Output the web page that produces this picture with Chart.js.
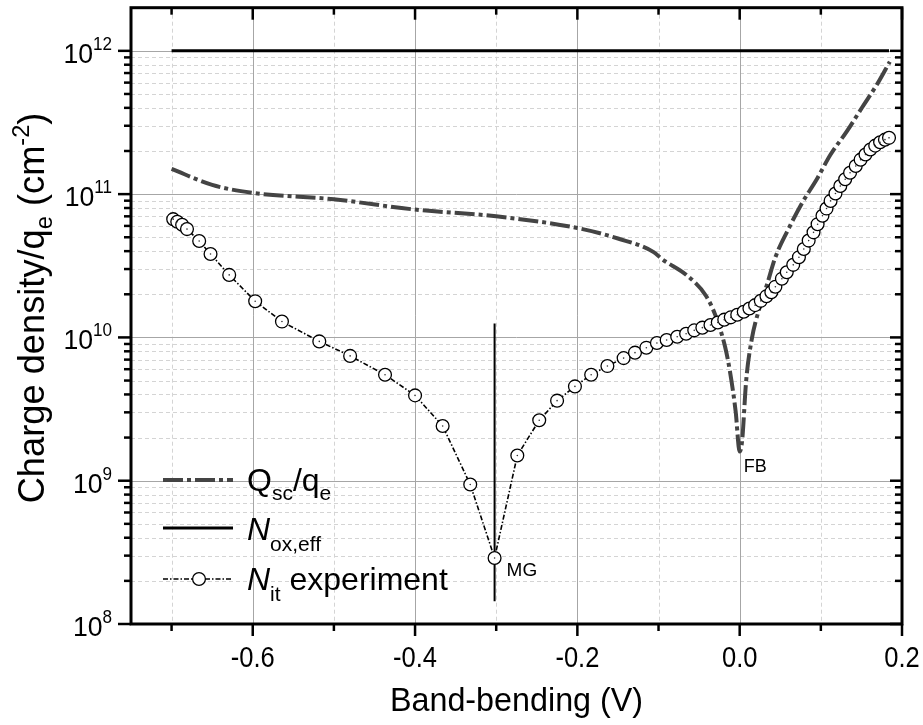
<!DOCTYPE html>
<html>
<head>
<meta charset="utf-8">
<script src="https://cdn.jsdelivr.net/npm/chart.js@4.4.1/dist/chart.umd.min.js"></script>
<style>
  body { margin: 0; background: #fff; }
  #wrap { width: 923px; height: 725px; position: relative; }
</style>
</head>
<body>
<div id="wrap"><canvas id="myChart"></canvas></div>
<script>
// ---- data ----
const qscX = [-0.700, -0.650, -0.600, -0.500, -0.400, -0.300, -0.200, -0.150, -0.106, -0.096, -0.065, -0.042, -0.030, -0.018, -0.012, -0.005, 0.000, 0.003, 0.008, 0.015, 0.023, 0.034, 0.044, 0.060, 0.077, 0.095, 0.112, 0.132, 0.151, 0.170, 0.185];
const qscY = [1.50e11, 1.16e11, 1.02e11, 9.2e10, 7.8e10, 7.0e10, 5.8e10, 4.9e10, 3.94e10, 3.53e10, 2.71e10, 1.97e10, 1.43e10, 8.6e9, 5.8e9, 3.05e9, 1.6e9, 1.9e9, 5.0e9, 9.8e9, 1.51e10, 2.37e10, 3.63e10, 5.7e10, 8.7e10, 1.27e11, 1.89e11, 2.74e11, 4.04e11, 5.93e11, 8.4e11];

const noxX = [-0.700, 0.184];
const noxY = [1e12, 1e12];

const nitX = [-0.698, -0.693, -0.687, -0.681, -0.666, -0.652, -0.629, -0.597, -0.564, -0.518, -0.480, -0.437, -0.400, -0.366, -0.332, -0.302, -0.274, -0.247, -0.225, -0.203, -0.183, -0.163, -0.143, -0.129, -0.115, -0.102, -0.090, -0.077, -0.066, -0.056, -0.046, -0.036, -0.027, -0.019, -0.011, -0.003, 0.005, 0.012, 0.019, 0.026, 0.033, 0.039, 0.044, 0.052, 0.058, 0.066, 0.073, 0.079, 0.085, 0.091, 0.096, 0.102, 0.107, 0.112, 0.118, 0.124, 0.130, 0.136, 0.143, 0.149, 0.155, 0.161, 0.167, 0.173, 0.179, 0.184];
const nitY = [6.69e10, 6.42e10, 6.11e10, 5.70e10, 4.71e10, 3.82e10, 2.73e10, 1.79e10, 1.29e10, 9.38e9, 7.43e9, 5.49e9, 3.94e9, 2.41e9, 9.41e8, 2.89e8, 1.50e9, 2.64e9, 3.62e9, 4.55e9, 5.49e9, 6.31e9, 7.17e9, 7.83e9, 8.48e9, 9.15e9, 9.59e9, 1.01e10, 1.06e10, 1.12e10, 1.17e10, 1.22e10, 1.27e10, 1.33e10, 1.38e10, 1.44e10, 1.51e10, 1.59e10, 1.68e10, 1.80e10, 1.94e10, 2.07e10, 2.26e10, 2.57e10, 2.85e10, 3.21e10, 3.63e10, 4.14e10, 4.74e10, 5.41e10, 6.17e10, 7.06e10, 7.93e10, 8.97e10, 1.01e11, 1.14e11, 1.27e11, 1.41e11, 1.57e11, 1.74e11, 1.89e11, 2.05e11, 2.18e11, 2.30e11, 2.40e11, 2.47e11];

// midgap marker line
const mgX = [-0.302, -0.302];
const mgY = [1.25e10, 1.44e8];

const xMajor = [-0.6, -0.4, -0.2, 0.0, 0.2];
const xMajorLabels = ['-0.6', '-0.4', '-0.2', '0.0', '0.2'];
const xMinor = [-0.7, -0.5, -0.3, -0.1, 0.1];
const yMajor = [1e8, 1e9, 1e10, 1e11, 1e12];
const yMajorExp = ['8', '9', '10', '11', '12'];

const FONT = '"Liberation Sans", Arial, Helvetica, sans-serif';
function font(s, it) { return (it ? 'italic ' : '') + s + 'px ' + FONT; }

function pts(xs, ys) { return xs.map((x, i) => ({ x: x, y: ys[i] })); }

// text with sub/superscripts, sx = horizontal squeeze
function drawRich(ctx, parts, x, y, align, sx) {
  sx = sx || 1;
  let w = 0;
  parts.forEach(p => { ctx.font = font(p.s, p.it); w += ctx.measureText(p.t).width; });
  w *= sx;
  let cx = align === 'right' ? x - w : align === 'center' ? x - w / 2 : x;
  ctx.save();
  ctx.translate(cx, y);
  ctx.scale(sx, 1);
  let ox = 0;
  parts.forEach(p => {
    ctx.font = font(p.s, p.it);
    ctx.fillText(p.t, ox, p.dy || 0);
    ox += ctx.measureText(p.t).width;
  });
  ctx.restore();
}

function yMinorValues() {
  const out = [];
  for (let k = 8; k <= 12; k++) {
    for (let m = 2; m <= 9; m++) {
      const v = m * Math.pow(10, k);
      if (v < 2e12) out.push(v);
    }
  }
  return out;
}

const decoPlugin = {
  id: 'deco',
  beforeDatasetsDraw(chart) {
    const ctx = chart.ctx;
    const { left, right, top, bottom } = chart.chartArea;
    const xs = chart.scales.x, ys = chart.scales.y;
    ctx.save();
    ctx.lineWidth = 1;
    // minor grid
    ctx.strokeStyle = '#d4d4d4';
    ctx.setLineDash([4, 3]);
    xMinor.forEach(v => {
      const px = Math.round(xs.getPixelForValue(v)) + 0.5;
      ctx.beginPath(); ctx.moveTo(px, top); ctx.lineTo(px, bottom); ctx.stroke();
    });
    yMinorValues().forEach(v => {
      const py = Math.round(ys.getPixelForValue(v)) + 0.5;
      ctx.beginPath(); ctx.moveTo(left, py); ctx.lineTo(right, py); ctx.stroke();
    });
    // major grid
    ctx.setLineDash([]);
    ctx.strokeStyle = '#a6a6a6';
    xMajor.forEach(v => {
      const px = Math.round(xs.getPixelForValue(v)) + 0.5;
      ctx.beginPath(); ctx.moveTo(px, top); ctx.lineTo(px, bottom); ctx.stroke();
    });
    yMajor.forEach(v => {
      const py = Math.round(ys.getPixelForValue(v)) + 0.5;
      ctx.beginPath(); ctx.moveTo(left, py); ctx.lineTo(right, py); ctx.stroke();
    });
    ctx.restore();
  },
  afterDatasetsDraw(chart) {
    const ctx = chart.ctx;
    const { left, right, top, bottom } = chart.chartArea;
    const xs = chart.scales.x, ys = chart.scales.y;
    ctx.save();
    ctx.strokeStyle = '#000';
    ctx.fillStyle = '#000';

    // ticks: outward on bottom/left, inward on top/right
    ctx.lineWidth = 2.5;
    const tick = (x1, y1, x2, y2) => { ctx.beginPath(); ctx.moveTo(x1, y1); ctx.lineTo(x2, y2); ctx.stroke(); };
    xMajor.forEach(v => { const px = xs.getPixelForValue(v); tick(px, bottom, px, bottom + 12); tick(px, top, px, top + 12); });
    xMinor.forEach(v => { const px = xs.getPixelForValue(v); tick(px, bottom, px, bottom + 7); tick(px, top, px, top + 7); });
    yMajor.forEach(v => { const py = ys.getPixelForValue(v); tick(left - 13, py, left, py); tick(right - 12, py, right, py); });
    yMinorValues().forEach(v => { const py = ys.getPixelForValue(v); tick(left - 7, py, left, py); tick(right - 7, py, right, py); });

    // frame
    ctx.lineWidth = 3;
    ctx.strokeRect(left, top, right - left, bottom - top);

    // x tick labels
    ctx.textBaseline = 'alphabetic';
    ctx.textAlign = 'left';
    xMajor.forEach((v, i) => {
      drawRich(ctx, [{ t: xMajorLabels[i], s: 29 }], xs.getPixelForValue(v), bottom + 43, 'center', 0.88);
    });
    // y tick labels 10^n
    yMajor.forEach((v, i) => {
      const py = ys.getPixelForValue(v);
      drawRich(ctx, [{ t: '10', s: 28 }, { t: yMajorExp[i], s: 18, dy: -13 }], left - 19, py + 12, 'right', 0.95);
    });

    // axis titles
    drawRich(ctx, [{ t: 'Band-bending (V)', s: 34 }], (left + right) / 2, 711, 'center', 0.95);
    ctx.save();
    ctx.translate(44, 308);
    ctx.rotate(-Math.PI / 2);
    drawRich(ctx, [
      { t: 'Charge density/q', s: 37 }, { t: 'e', s: 24, dy: 8 },
      { t: ' (cm', s: 37 }, { t: '-2', s: 24, dy: -15 }, { t: ')', s: 37 }
    ], 0, 0, 'center', 0.98);
    ctx.restore();

    // annotations
    drawRich(ctx, [{ t: 'MG', s: 19 }], xs.getPixelForValue(-0.302) + 12, ys.getPixelForValue(2.89e8) + 18, 'left');
    drawRich(ctx, [{ t: 'FB', s: 18 }], xs.getPixelForValue(0.0) + 4, ys.getPixelForValue(1.6e9) + 21, 'left');

    // legend
    const ds = chart.data.datasets;
    const lx1 = 163, lx2 = 233, tx = 247;
    const sample = (d, y) => {
      ctx.save();
      ctx.strokeStyle = d.borderColor;
      ctx.lineWidth = d.borderWidth;
      ctx.setLineDash(d.borderDash || []);
      ctx.beginPath(); ctx.moveTo(lx1, y); ctx.lineTo(lx2, y); ctx.stroke();
      ctx.restore();
    };
    sample(ds[1], 480);
    drawRich(ctx, [{ t: 'Q', s: 32 }, { t: 'sc', s: 21, dy: 9 }, { t: '/q', s: 32 }, { t: 'e', s: 21, dy: 9 }], tx, 491, 'left');
    sample(ds[2], 528);
    drawRich(ctx, [{ t: 'N', s: 32, it: true }, { t: 'ox,eff', s: 21, dy: 11 }], tx, 540, 'left');
    sample(ds[0], 579);
    ctx.beginPath();
    ctx.arc(199, 579, ds[0].pointRadius, 0, Math.PI * 2);
    ctx.fillStyle = '#fff'; ctx.fill();
    ctx.lineWidth = ds[0].pointBorderWidth; ctx.strokeStyle = '#000'; ctx.stroke();
    ctx.fillStyle = '#000';
    drawRich(ctx, [{ t: 'N', s: 32, it: true }, { t: 'it', s: 21, dy: 11 }, { t: ' experiment', s: 32 }], tx, 590, 'left');

    ctx.restore();
  }
};

const ctx = document.getElementById('myChart').getContext('2d');
const myChart = new Chart(ctx, {
  type: 'line',
  data: {
    datasets: [
      {
        label: 'N_it experiment',
        data: pts(nitX, nitY),
        borderColor: '#000',
        borderWidth: 1.6,
        borderDash: [5, 2, 1.5, 2],
        pointRadius: 6.4,
        pointBackgroundColor: '#fff',
        pointBorderColor: '#000',
        pointBorderWidth: 1.3,
        tension: 0,
        order: 0
      },
      {
        label: 'Q_sc/q_e',
        data: pts(qscX, qscY),
        borderColor: '#444444',
        borderWidth: 4,
        borderDash: [20, 4, 4, 4],
        pointRadius: 0,
        cubicInterpolationMode: 'monotone',
        order: 2
      },
      {
        label: 'N_ox,eff',
        data: pts(noxX, noxY),
        borderColor: '#000',
        borderWidth: 3,
        pointRadius: 0,
        order: 3
      },
      {
        label: 'MG',
        data: pts(mgX, mgY),
        borderColor: '#000',
        borderWidth: 2,
        pointRadius: 0,
        order: 1
      },
      {
        label: 'centers',
        data: pts(nitX, nitY),
        showLine: false,
        pointRadius: 0.8,
        pointBorderWidth: 0,
        pointBackgroundColor: '#333',
        order: -1
      }
    ]
  },
  options: {
    responsive: true,
    maintainAspectRatio: false,
    animation: false,
    devicePixelRatio: 1,
    layout: { padding: { top: 4, right: 21, left: 0, bottom: 0 } },
    scales: {
      x: {
        type: 'linear',
        min: -0.75,
        max: 0.2,
        grid: { display: false },
        border: { display: false },
        ticks: { display: false },
        afterFit(s) { s.height = 101; }
      },
      y: {
        type: 'logarithmic',
        min: 1e8,
        max: 2e12,
        grid: { display: false },
        border: { display: false },
        ticks: { display: false },
        afterFit(s) { s.width = 131; }
      }
    },
    plugins: {
      legend: { display: false },
      tooltip: { enabled: false }
    }
  },
  plugins: [decoPlugin]
});
</script>
</body>
</html>
